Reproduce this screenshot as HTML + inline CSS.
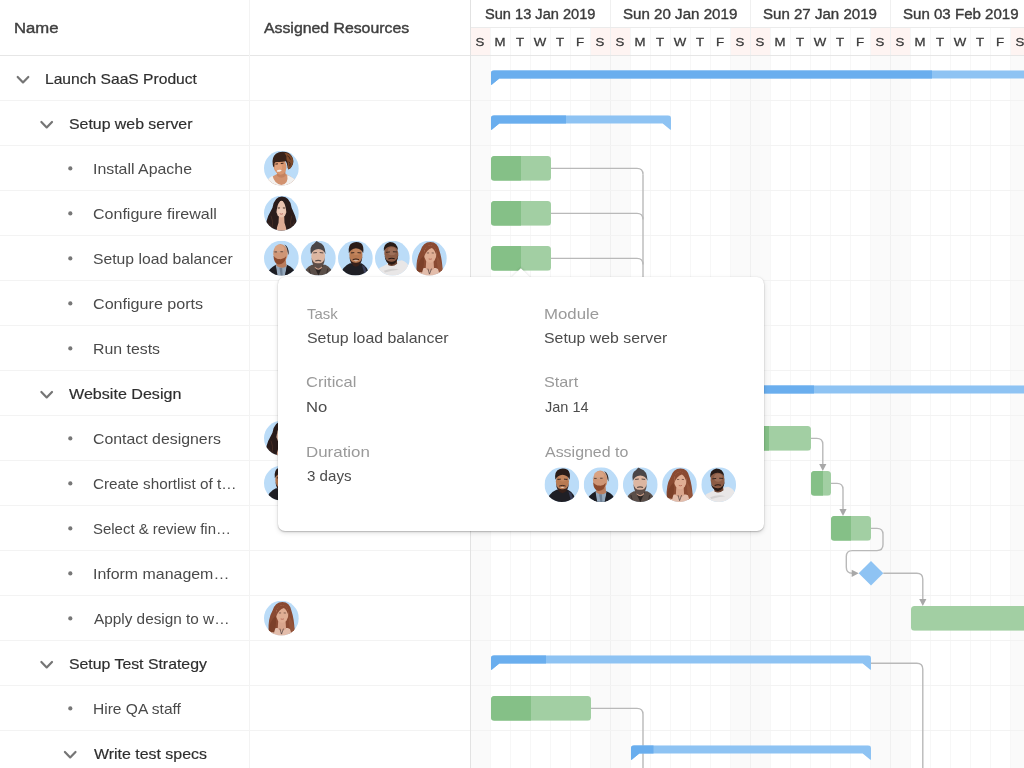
<!DOCTYPE html>
<html><head><meta charset="utf-8"><title>Gantt</title>
<style>
html,body{margin:0;padding:0;background:#fff;}
body{width:1024px;height:768px;overflow:hidden;position:relative;font-family:"Liberation Sans", sans-serif;}
#all{position:absolute;left:0;top:0;width:1024px;height:768px;overflow:hidden;filter:blur(0.3px);background:#fff;}
svg{position:absolute;left:0;top:0;}
.t{position:absolute;white-space:pre;line-height:20px;height:20px;transform-origin:0 50%;font-family:"Liberation Sans", sans-serif;}
.d{position:absolute;top:32.3px;width:20px;text-align:center;font-size:11.8px;transform:scaleX(1.12);line-height:20px;color:#3a3a3a;-webkit-text-stroke:0.3px #3a3a3a;font-family:"Liberation Sans", sans-serif;}
#tip{position:absolute;left:277.9px;top:276.8px;width:486.1px;height:254px;background:#fff;border-radius:7px;box-shadow:0 1px 1.5px rgba(0,0,0,.2),0 2px 5px rgba(0,0,0,.12),0 0 1.5px rgba(0,0,0,.10);}
#tiparrow{position:absolute;left:514.2px;top:271.2px;width:13.6px;height:13.6px;background:#fff;transform:rotate(45deg);box-shadow:-1px -1px 2px rgba(0,0,0,.08);}
#tipcover{position:absolute;left:500px;top:276.8px;width:42px;height:12px;background:#fff;}
</style></head><body><div id="all">
<svg width="1024" height="768" viewBox="0 0 1024 768">
<rect x="471" y="56" width="20" height="712" fill="#fafafa"/>
<rect x="591" y="56" width="20" height="712" fill="#fafafa"/>
<rect x="471" y="28" width="19" height="27" fill="#fef4f2"/>
<rect x="591" y="28" width="19" height="27" fill="#fef4f2"/>
<rect x="611" y="56" width="20" height="712" fill="#fafafa"/>
<rect x="731" y="56" width="20" height="712" fill="#fafafa"/>
<rect x="611" y="28" width="19" height="27" fill="#fef4f2"/>
<rect x="731" y="28" width="19" height="27" fill="#fef4f2"/>
<rect x="751" y="56" width="20" height="712" fill="#fafafa"/>
<rect x="871" y="56" width="20" height="712" fill="#fafafa"/>
<rect x="751" y="28" width="19" height="27" fill="#fef4f2"/>
<rect x="871" y="28" width="19" height="27" fill="#fef4f2"/>
<rect x="891" y="56" width="20" height="712" fill="#fafafa"/>
<rect x="1011" y="56" width="20" height="712" fill="#fafafa"/>
<rect x="891" y="28" width="19" height="27" fill="#fef4f2"/>
<rect x="1011" y="28" width="19" height="27" fill="#fef4f2"/>
<rect x="1031" y="56" width="20" height="712" fill="#fafafa"/>
<rect x="1151" y="56" width="20" height="712" fill="#fafafa"/>
<rect x="1031" y="28" width="19" height="27" fill="#fef4f2"/>
<rect x="1151" y="28" width="19" height="27" fill="#fef4f2"/>
<line x1="490.5" y1="28" x2="490.5" y2="768" stroke="#f7f7f7" stroke-width="1"/>
<line x1="510.5" y1="28" x2="510.5" y2="768" stroke="#f7f7f7" stroke-width="1"/>
<line x1="530.5" y1="28" x2="530.5" y2="768" stroke="#f7f7f7" stroke-width="1"/>
<line x1="550.5" y1="28" x2="550.5" y2="768" stroke="#f7f7f7" stroke-width="1"/>
<line x1="570.5" y1="28" x2="570.5" y2="768" stroke="#f7f7f7" stroke-width="1"/>
<line x1="590.5" y1="28" x2="590.5" y2="768" stroke="#f7f7f7" stroke-width="1"/>
<line x1="610.5" y1="0" x2="610.5" y2="768" stroke="#f0f0f0" stroke-width="1"/>
<line x1="630.5" y1="28" x2="630.5" y2="768" stroke="#f7f7f7" stroke-width="1"/>
<line x1="650.5" y1="28" x2="650.5" y2="768" stroke="#f7f7f7" stroke-width="1"/>
<line x1="670.5" y1="28" x2="670.5" y2="768" stroke="#f7f7f7" stroke-width="1"/>
<line x1="690.5" y1="28" x2="690.5" y2="768" stroke="#f7f7f7" stroke-width="1"/>
<line x1="710.5" y1="28" x2="710.5" y2="768" stroke="#f7f7f7" stroke-width="1"/>
<line x1="730.5" y1="28" x2="730.5" y2="768" stroke="#f7f7f7" stroke-width="1"/>
<line x1="750.5" y1="0" x2="750.5" y2="768" stroke="#f0f0f0" stroke-width="1"/>
<line x1="770.5" y1="28" x2="770.5" y2="768" stroke="#f7f7f7" stroke-width="1"/>
<line x1="790.5" y1="28" x2="790.5" y2="768" stroke="#f7f7f7" stroke-width="1"/>
<line x1="810.5" y1="28" x2="810.5" y2="768" stroke="#f7f7f7" stroke-width="1"/>
<line x1="830.5" y1="28" x2="830.5" y2="768" stroke="#f7f7f7" stroke-width="1"/>
<line x1="850.5" y1="28" x2="850.5" y2="768" stroke="#f7f7f7" stroke-width="1"/>
<line x1="870.5" y1="28" x2="870.5" y2="768" stroke="#f7f7f7" stroke-width="1"/>
<line x1="890.5" y1="0" x2="890.5" y2="768" stroke="#f0f0f0" stroke-width="1"/>
<line x1="910.5" y1="28" x2="910.5" y2="768" stroke="#f7f7f7" stroke-width="1"/>
<line x1="930.5" y1="28" x2="930.5" y2="768" stroke="#f7f7f7" stroke-width="1"/>
<line x1="950.5" y1="28" x2="950.5" y2="768" stroke="#f7f7f7" stroke-width="1"/>
<line x1="970.5" y1="28" x2="970.5" y2="768" stroke="#f7f7f7" stroke-width="1"/>
<line x1="990.5" y1="28" x2="990.5" y2="768" stroke="#f7f7f7" stroke-width="1"/>
<line x1="1010.5" y1="28" x2="1010.5" y2="768" stroke="#f7f7f7" stroke-width="1"/>
<line x1="1030.5" y1="0" x2="1030.5" y2="768" stroke="#f0f0f0" stroke-width="1"/>
<line x1="471" y1="27.5" x2="1024" y2="27.5" stroke="#ebebeb"/>
<line x1="0" y1="55.5" x2="1024" y2="55.5" stroke="#e6e6e6"/>
<line x1="0" y1="100.5" x2="1024" y2="100.5" stroke="#f3f3f3"/>
<line x1="0" y1="145.5" x2="1024" y2="145.5" stroke="#f3f3f3"/>
<line x1="0" y1="190.5" x2="1024" y2="190.5" stroke="#f3f3f3"/>
<line x1="0" y1="235.5" x2="1024" y2="235.5" stroke="#f3f3f3"/>
<line x1="0" y1="280.5" x2="1024" y2="280.5" stroke="#f3f3f3"/>
<line x1="0" y1="325.5" x2="1024" y2="325.5" stroke="#f3f3f3"/>
<line x1="0" y1="370.5" x2="1024" y2="370.5" stroke="#f3f3f3"/>
<line x1="0" y1="415.5" x2="1024" y2="415.5" stroke="#f3f3f3"/>
<line x1="0" y1="460.5" x2="1024" y2="460.5" stroke="#f3f3f3"/>
<line x1="0" y1="505.5" x2="1024" y2="505.5" stroke="#f3f3f3"/>
<line x1="0" y1="550.5" x2="1024" y2="550.5" stroke="#f3f3f3"/>
<line x1="0" y1="595.5" x2="1024" y2="595.5" stroke="#f3f3f3"/>
<line x1="0" y1="640.5" x2="1024" y2="640.5" stroke="#f3f3f3"/>
<line x1="0" y1="685.5" x2="1024" y2="685.5" stroke="#f3f3f3"/>
<line x1="0" y1="730.5" x2="1024" y2="730.5" stroke="#f3f3f3"/>
<line x1="0" y1="775.5" x2="1024" y2="775.5" stroke="#f3f3f3"/>
<line x1="249.5" y1="0" x2="249.5" y2="768" stroke="#f3f3f3"/>
<line x1="470.5" y1="0" x2="470.5" y2="768" stroke="#e2e2e2"/>
<path d="M17.7 77.0 L23.0 82.4 L28.3 77.0" fill="none" stroke="#757575" stroke-width="2.2" stroke-linecap="round" stroke-linejoin="round"/>
<path d="M41.4 122.0 L46.7 127.4 L52.0 122.0" fill="none" stroke="#757575" stroke-width="2.2" stroke-linecap="round" stroke-linejoin="round"/>
<circle cx="70.3" cy="168.4" r="2.1" fill="#777"/>
<circle cx="70.3" cy="213.4" r="2.1" fill="#777"/>
<circle cx="70.3" cy="258.4" r="2.1" fill="#777"/>
<circle cx="70.3" cy="303.4" r="2.1" fill="#777"/>
<circle cx="70.3" cy="348.4" r="2.1" fill="#777"/>
<path d="M41.4 392.0 L46.7 397.4 L52.0 392.0" fill="none" stroke="#757575" stroke-width="2.2" stroke-linecap="round" stroke-linejoin="round"/>
<circle cx="70.3" cy="438.4" r="2.1" fill="#777"/>
<circle cx="70.3" cy="483.4" r="2.1" fill="#777"/>
<circle cx="70.3" cy="528.4" r="2.1" fill="#777"/>
<circle cx="70.3" cy="573.4" r="2.1" fill="#777"/>
<circle cx="70.3" cy="618.4" r="2.1" fill="#777"/>
<path d="M41.4 662.0 L46.7 667.4 L52.0 662.0" fill="none" stroke="#757575" stroke-width="2.2" stroke-linecap="round" stroke-linejoin="round"/>
<circle cx="70.3" cy="708.4" r="2.1" fill="#777"/>
<path d="M64.9 752.0 L70.2 757.4 L75.5 752.0" fill="none" stroke="#757575" stroke-width="2.2" stroke-linecap="round" stroke-linejoin="round"/>
<path d="M551 168.4 L637 168.4 Q643 168.4 643 174.4" fill="none" stroke="#b9b9b9" stroke-width="1.4"/>
<path d="M551 213.4 L637 213.4 Q643 213.4 643 219.4" fill="none" stroke="#b9b9b9" stroke-width="1.4"/>
<path d="M551 258.4 L637 258.4 Q643 258.4 643 264.4" fill="none" stroke="#b9b9b9" stroke-width="1.4"/>
<path d="M643 174.4 L643 300" fill="none" stroke="#b9b9b9" stroke-width="1.4"/>
<path d="M811 438.4 L816.8 438.4 Q822.8 438.4 822.8 444.4 L822.8 465.0" fill="none" stroke="#b9b9b9" stroke-width="1.4"/>
<path d="M819.1999999999999 464.0 L826.4 464.0 L822.8 471.0 Z" fill="#a8a8a8"/>
<path d="M831 483.4 L837 483.4 Q843 483.4 843 489.4 L843 510.0" fill="none" stroke="#b9b9b9" stroke-width="1.4"/>
<path d="M839.4 509.0 L846.6 509.0 L843 516.0 Z" fill="#a8a8a8"/>
<path d="M871 528.4 L877 528.4 Q883 528.4 883 534.4 L883 544.6 Q883 550.6 877 550.6 L852.3 550.6 Q846.3 550.6 846.3 556.6 L846.3 567.3 Q846.3 573.3 852.3 573.3 L852.7 573.3" fill="none" stroke="#b9b9b9" stroke-width="1.4"/>
<path d="M851.7 569.6999999999999 L851.7 576.9 L858.7 573.3 Z" fill="#a8a8a8"/>
<path d="M883.3 573.3 L916.8 573.3 Q922.8 573.3 922.8 579.3 L922.8 600.0" fill="none" stroke="#b9b9b9" stroke-width="1.4"/>
<path d="M919.1999999999999 599.0 L926.4 599.0 L922.8 606.0 Z" fill="#a8a8a8"/>
<path d="M871 663.1999999999999 L916.8 663.1999999999999 Q922.8 663.1999999999999 922.8 669.1999999999999 L922.8 770" fill="none" stroke="#b9b9b9" stroke-width="1.4"/>
<path d="M591 708.4 L637 708.4 Q643 708.4 643 714.4 L643 770" fill="none" stroke="#b9b9b9" stroke-width="1.4"/>
<clipPath id="c0"><path d="M491 73.5 Q491 70.3 494.2 70.3 L1030 70.3 L1030 78.6 L499.3 78.6 L492.3 84.3 Q491 85.5 491 83.9 Z"/></clipPath>
<g clip-path="url(#c0)"><rect x="491" y="70.3" width="539" height="20" fill="#8ec3f3"/><rect x="491" y="70.3" width="441" height="20" fill="#6aaeee"/></g>
<clipPath id="c1"><path d="M491 118.5 Q491 115.3 494.2 115.3 L667.8 115.3 Q671 115.3 671 118.5 L671 128.9 Q671 130.5 669.7 129.3 L662.7 123.6 L499.3 123.6 L492.3 129.3 Q491 130.5 491 128.9 Z"/></clipPath>
<g clip-path="url(#c1)"><rect x="491" y="115.3" width="180" height="20" fill="#8ec3f3"/><rect x="491" y="115.3" width="75" height="20" fill="#6aaeee"/></g>
<clipPath id="c2"><rect x="491" y="156.0" width="60" height="24.8" rx="3.5"/></clipPath>
<g clip-path="url(#c2)"><rect x="491" y="156.0" width="60" height="24.8" fill="#a2cfa3"/><rect x="491" y="156.0" width="30" height="24.8" fill="#85c087"/></g>
<clipPath id="c3"><rect x="491" y="201.0" width="60" height="24.8" rx="3.5"/></clipPath>
<g clip-path="url(#c3)"><rect x="491" y="201.0" width="60" height="24.8" fill="#a2cfa3"/><rect x="491" y="201.0" width="30" height="24.8" fill="#85c087"/></g>
<clipPath id="c4"><rect x="491" y="246.0" width="60" height="24.8" rx="3.5"/></clipPath>
<g clip-path="url(#c4)"><rect x="491" y="246.0" width="60" height="24.8" fill="#a2cfa3"/><rect x="491" y="246.0" width="30" height="24.8" fill="#85c087"/></g>
<clipPath id="c7"><path d="M611 388.5 Q611 385.3 614.2 385.3 L1030 385.3 L1030 393.6 L619.3 393.6 L612.3 399.3 Q611 400.5 611 398.9 Z"/></clipPath>
<g clip-path="url(#c7)"><rect x="611" y="385.3" width="419" height="20" fill="#8ec3f3"/><rect x="611" y="385.3" width="203" height="20" fill="#6aaeee"/></g>
<clipPath id="c8"><rect x="751" y="426.0" width="60" height="24.8" rx="3.5"/></clipPath>
<g clip-path="url(#c8)"><rect x="751" y="426.0" width="60" height="24.8" fill="#a2cfa3"/><rect x="751" y="426.0" width="18" height="24.8" fill="#85c087"/></g>
<clipPath id="c9"><rect x="811" y="471.0" width="20" height="24.8" rx="3.5"/></clipPath>
<g clip-path="url(#c9)"><rect x="811" y="471.0" width="20" height="24.8" fill="#a2cfa3"/><rect x="811" y="471.0" width="12" height="24.8" fill="#85c087"/></g>
<clipPath id="c10"><rect x="831" y="516.0" width="40" height="24.8" rx="3.5"/></clipPath>
<g clip-path="url(#c10)"><rect x="831" y="516.0" width="40" height="24.8" fill="#a2cfa3"/><rect x="831" y="516.0" width="20" height="24.8" fill="#85c087"/></g>
<clipPath id="c12"><rect x="911" y="606.0" width="119" height="24.8" rx="3.5"/></clipPath>
<g clip-path="url(#c12)"><rect x="911" y="606.0" width="119" height="24.8" fill="#a2cfa3"/><rect x="911" y="606.0" width="0" height="24.8" fill="#85c087"/></g>
<clipPath id="c13"><path d="M491 658.5 Q491 655.3 494.2 655.3 L867.8 655.3 Q871 655.3 871 658.5 L871 668.9 Q871 670.5 869.7 669.3 L862.7 663.5999999999999 L499.3 663.5999999999999 L492.3 669.3 Q491 670.5 491 668.9 Z"/></clipPath>
<g clip-path="url(#c13)"><rect x="491" y="655.3" width="380" height="20" fill="#8ec3f3"/><rect x="491" y="655.3" width="55" height="20" fill="#6aaeee"/></g>
<clipPath id="c14"><rect x="491" y="696.0" width="100" height="24.8" rx="3.5"/></clipPath>
<g clip-path="url(#c14)"><rect x="491" y="696.0" width="100" height="24.8" fill="#a2cfa3"/><rect x="491" y="696.0" width="40" height="24.8" fill="#85c087"/></g>
<clipPath id="c15"><path d="M631 748.5 Q631 745.3 634.2 745.3 L867.8 745.3 Q871 745.3 871 748.5 L871 758.9 Q871 760.5 869.7 759.3 L862.7 753.5999999999999 L639.3 753.5999999999999 L632.3 759.3 Q631 760.5 631 758.9 Z"/></clipPath>
<g clip-path="url(#c15)"><rect x="631" y="745.3" width="240" height="20" fill="#8ec3f3"/><rect x="631" y="745.3" width="22.5" height="20" fill="#6aaeee"/></g>
<path d="M858.7 573.3 L871 561.0 L883.3 573.3 L871 585.5999999999999 Z" fill="#8ec3f3"/>
<g transform="translate(264.0 150.8) scale(0.9943)"><clipPath id="a1"><circle cx="17.5" cy="17.5" r="17.5"/></clipPath><g clip-path="url(#a1)"><rect width="35" height="35" fill="#bbdcf8"/><path d="M1 35 Q3 28.5 9 25.5 L13.5 23 L21.5 23 L26 25.5 Q32 28.5 34 35Z" fill="#d2926f"/><path d="M1 35 Q2.5 28.5 8.6 25.2 Q10.5 33.5 17.5 34.4 Q25 33.5 23.4 24.4 L27 26 Q32.5 28.5 34 35Z" fill="#f3f1ef"/><path d="M13.4 19 L21.3 19 L21.8 25 Q17.5 29 13 25Z" fill="#c4825f"/><ellipse cx="16.1" cy="15.6" rx="6.5" ry="8.4" transform="rotate(-9 16.1 15.6)" fill="#d9966f"/><ellipse cx="14.6" cy="16.6" rx="3.6" ry="4" fill="#e5a884" opacity=".7"/><ellipse cx="15.3" cy="20.1" rx="2.5" ry="0.95" transform="rotate(-10 15.3 20.1)" fill="#f8f0ea"/><path d="M11.6 13.4 L14 13.1 M16.9 12.8 L19.6 12.5" stroke="#3a231a" stroke-width="1"/><path d="M8.8 14 Q7.6 6.5 12 3 Q16 0 22 1.3 Q27 2.5 28.8 7 Q30.5 11.5 28.3 15 Q27 18.5 24.6 18.8 Q23.6 18 23.6 15.5 Q23.4 12.5 21.8 10.6 Q17 11.6 13.5 11.2 Q11 11 10.6 12.5 Q10.4 15 10.2 16.6 Q9 16 8.8 14Z" fill="#37221a"/><path d="M20.5 2 Q26.5 2.2 28.8 7.5 Q30.2 12 28 15.3 Q26.6 18.6 24.6 18.6 Q23.8 17.5 24 14.5 Q24.3 11 22.6 8.5 Q23 4.5 20.5 2Z" fill="#7f4a2b"/><path d="M23.5 5 Q26 6 26.5 9 M25 11 Q27 12 26 15.5" stroke="#3d261b" stroke-width="0.9" fill="none"/></g></g>
<g transform="translate(264.0 195.8) scale(0.9943)"><clipPath id="a2"><circle cx="17.5" cy="17.5" r="17.5"/></clipPath><g clip-path="url(#a2)"><rect width="35" height="35" fill="#bbdcf8"/><path d="M1 30 Q3.5 20 8.5 12 Q10.5 0.8 18 0.8 Q26 0.8 27.8 12 Q32 20 34 30 Q27 36 17.5 35.8 Q8 36 1 30Z" fill="#2a1c1b"/><path d="M15 20 L20.3 20 L20.6 27 Q22.5 32 22.8 35.8 L12.6 35.8 Q12.6 32 14.6 27Z" fill="#dcab94"/><ellipse cx="17.5" cy="13.5" rx="5.4" ry="8.4" fill="#e8c2ae"/><ellipse cx="17.5" cy="16" rx="3.4" ry="3.6" fill="#f0cfbd" opacity=".7"/><path d="M11.9 17 Q10 5 17.7 3.7 Q13.8 7.2 13 13.2 Q12.6 16 11.9 17Z" fill="#2a1c1b"/><path d="M23.1 17 Q25 5 17.7 3.7 Q21.2 7.2 22 13.2 Q22.4 16 23.1 17Z" fill="#2a1c1b"/><path d="M13.9 12.3 L16 12.2 M19 12.2 L21.1 12.3" stroke="#3a2822" stroke-width="0.9"/><path d="M15.8 18 Q17.5 19 19.2 18" stroke="#b5645a" stroke-width="0.9" fill="none"/><path d="M7 20 Q10 26 8 33 M28 20 Q25.5 26 27.5 33 M4.5 27 Q7 29 6 32 M30.5 26 Q28.5 29 30 32" stroke="#5c3b2c" stroke-width="0.9" fill="none" opacity=".55"/></g></g>
<g transform="translate(264.0 240.8) scale(0.9943)"><clipPath id="a3"><circle cx="17.5" cy="17.5" r="17.5"/></clipPath><g clip-path="url(#a3)"><rect width="35" height="35" fill="#bbdcf8"/><path d="M2.5 35 Q5 27.5 12 24.2 L23 24.2 Q30.5 27 32.5 35Z" fill="#1d1d23"/><path d="M11.8 24.3 L12.8 35 L21.5 35 L23.2 24.3Z" fill="#94a8bc"/><path d="M11.8 24.3 L10 35 L13.6 35Z M23.2 24.3 L24.5 35 L21 35Z" fill="#1d1d23"/><path d="M15.5 27 L16.8 35 L18.8 35 L18.3 27Z" fill="#6f8196"/><path d="M13 19 L22 19 L22.5 25.5 Q17.5 29 12.5 25Z" fill="#b97d5e"/><ellipse cx="16.6" cy="12.8" rx="7.3" ry="9.7" fill="#cf9676"/><ellipse cx="15.5" cy="8" rx="5" ry="4" fill="#dba687" opacity=".8"/><path d="M20.5 3.6 Q25.5 6 25 14.5 Q23.6 12 23.2 8.5 Q22.3 5.6 20.5 3.6Z" fill="#3a2922"/><path d="M9.6 15 Q9.6 23 15 23.8 Q21.5 23.3 22.3 15.5 Q19.8 19 15.5 18.4 Q12 18.4 9.6 15Z" fill="#8b4a2e"/><path d="M9 11 L20.3 10.8" stroke="#b09a90" stroke-width="0.7" opacity=".8"/><path d="M10.5 11.2 L13 11.2 M16.5 11 L19 11" stroke="#5a3a2c" stroke-width="0.9"/></g></g>
<g transform="translate(301.0 240.8) scale(0.9943)"><clipPath id="a4"><circle cx="17.5" cy="17.5" r="17.5"/></clipPath><g clip-path="url(#a4)"><rect width="35" height="35" fill="#bbdcf8"/><path d="M2 35 Q4 27 11 24 L24.5 24 Q31 27 33 35Z" fill="#5a4e48"/><path d="M12.5 24 L17.5 35 L22.5 24Z" fill="#2b2523"/><path d="M8 28 L10 35 M27 28 L25.5 35" stroke="#3e3430" stroke-width="1.2"/><path d="M14 21 L21 21 L21.3 27 Q17.5 31 13.7 27Z" fill="#c99c86"/><ellipse cx="17.3" cy="15.3" rx="6.9" ry="9.2" fill="#dcb6a1"/><path d="M10.6 16.5 Q10.8 26.5 17.3 28 Q23.8 26.5 24 16.5 Q22.8 23.3 17.3 22.6 Q11.8 23.3 10.6 16.5Z" fill="#5e4e48"/><path d="M14.3 20.3 Q17.3 19 20.3 20.3" stroke="#5e4e48" stroke-width="1.1" fill="none"/><path d="M10 13.5 Q8.3 5.5 13 3 L15.6 0.2 L18.2 1.8 Q24.2 3 24.8 13.5 Q23 8.8 17.5 8.2 Q12 8.8 10 13.5Z" fill="#4a4648"/><path d="M12.3 12.2 L16 11.8 M18.8 11.8 L22.4 12.2" stroke="#4a3e3a" stroke-width="0.9"/></g></g>
<g transform="translate(338.0 240.8) scale(0.9943)"><clipPath id="a5"><circle cx="17.5" cy="17.5" r="17.5"/></clipPath><g clip-path="url(#a5)"><rect width="35" height="35" fill="#bbdcf8"/><path d="M2 35 Q4 26 12 22.5 L23.5 22.5 Q30.5 26 31.5 35Z" fill="#1f1f25"/><path d="M24 24 L27 35 L30 35 L27 26Z" fill="#3a3f58"/><ellipse cx="18" cy="14.3" rx="6.6" ry="9" fill="#b87a52"/><ellipse cx="18.5" cy="11" rx="4" ry="3.2" fill="#c88a62" opacity=".7"/><path d="M11.6 15.5 Q11.8 24.8 18 26 Q24.2 24.8 24.5 15.5 Q23.3 22.6 18 22 Q12.7 22.6 11.6 15.5Z" fill="#38211a"/><path d="M14.8 18.9 Q18 17.6 21.2 18.9" stroke="#38211a" stroke-width="1" fill="none"/><path d="M15.3 19.5 Q18 21.7 20.7 19.5 Q18 20.3 15.3 19.5Z" fill="#f3ebe6"/><path d="M10.9 12.5 Q9.6 3.8 15 1.9 Q19 0.3 23.2 2.4 Q26.4 5 25.3 12.5 Q23.6 8 18 7.4 Q13 8 10.9 12.5Z" fill="#2a1c18"/><path d="M13 12.2 L16.4 11.9 M19.6 11.9 L23 12.2" stroke="#2a1c18" stroke-width="0.9"/></g></g>
<g transform="translate(375.0 240.8) scale(0.9943)"><clipPath id="a6"><circle cx="17.5" cy="17.5" r="17.5"/></clipPath><g clip-path="url(#a6)"><rect width="35" height="35" fill="#bbdcf8"/><path d="M0 35 Q1.5 27.5 9 25 L14 22.3 L22 20.5 L27 19.5 Q33 21.5 35 28 L35 35Z" fill="#e9e7e7"/><path d="M9 30 Q17 27 24 29 Q17 29.5 10 32Z" fill="#d4d2d2"/><path d="M12.8 19.5 L21.8 18.5 L22.3 23 Q17.8 27 13.2 24.3Z" fill="#6b4432"/><ellipse cx="16.4" cy="12.8" rx="7" ry="9.6" transform="rotate(-6 16.4 12.8)" fill="#8c5c45"/><ellipse cx="17" cy="10.5" rx="4.2" ry="4" fill="#a87a63" opacity=".65"/><path d="M9.6 14.8 Q10.3 23 16.6 24.2 Q22.8 23 23.5 14 Q21.9 21.4 16.6 21 Q11.3 21.4 9.6 14.8Z" fill="#2a1a14"/><path d="M13.4 18.3 Q16.6 17 19.8 18.1" stroke="#2a1a14" stroke-width="1.1" fill="none"/><path d="M8.9 10.5 Q8.2 2.8 15 1.3 Q22.2 1.3 23.2 9.5 Q21 5.3 16 5.4 Q11 5.8 8.9 10.5Z" fill="#281c18"/><path d="M11 11.6 L15 11.2 M18 11 L22 11.2" stroke="#3a2820" stroke-width="1"/></g></g>
<g transform="translate(412.0 240.8) scale(0.9943)"><clipPath id="a7"><circle cx="17.5" cy="17.5" r="17.5"/></clipPath><g clip-path="url(#a7)"><rect width="35" height="35" fill="#bbdcf8"/><path d="M4.6 31 Q3.8 18 8.5 10 Q11 1.4 18.5 1.2 Q26 1.4 27.6 10 Q30.3 18 30.8 30 L28 33 L7 33Z" fill="#8a4a32"/><path d="M4 35.5 Q6 29 12 27.3 L24 27.3 Q30 29 31.5 35.5Z" fill="#e3bdab"/><path d="M14.3 20 L21.7 20 L22.2 28 Q18 32 13.8 28Z" fill="#d9a58c"/><ellipse cx="18.3" cy="13.4" rx="6.3" ry="8.8" fill="#e0ae94"/><path d="M12.1 16 Q11.2 4.8 18.5 4.1 Q25.4 4.8 24.7 16 Q23.2 9 20 7.3 Q15 8.4 12.1 16Z" fill="#8a4a32"/><path d="M4.6 31 Q5 21 11.8 15 Q13 23 10.2 32Z" fill="#7c4029"/><path d="M30.8 30 Q30 21 24.9 15 Q24.2 23 27.2 32Z" fill="#94543a"/><path d="M16 28 L17.6 33.5 L19.6 28" stroke="#4c3b3a" stroke-width="0.7" fill="none"/><path d="M15 12.3 L17.2 12.2 M19.8 12.2 L22 12.3" stroke="#6a4a3e" stroke-width="0.8"/><path d="M16.8 18.2 Q18.4 19 20 18.2" stroke="#b86a58" stroke-width="0.9" fill="none"/></g></g>
<g transform="translate(264.0 420.8) scale(0.9943)"><clipPath id="a8"><circle cx="17.5" cy="17.5" r="17.5"/></clipPath><g clip-path="url(#a8)"><rect width="35" height="35" fill="#bbdcf8"/><path d="M1 30 Q3.5 20 8.5 12 Q10.5 0.8 18 0.8 Q26 0.8 27.8 12 Q32 20 34 30 Q27 36 17.5 35.8 Q8 36 1 30Z" fill="#2a1c1b"/><path d="M15 20 L20.3 20 L20.6 27 Q22.5 32 22.8 35.8 L12.6 35.8 Q12.6 32 14.6 27Z" fill="#dcab94"/><ellipse cx="17.5" cy="13.5" rx="5.4" ry="8.4" fill="#e8c2ae"/><ellipse cx="17.5" cy="16" rx="3.4" ry="3.6" fill="#f0cfbd" opacity=".7"/><path d="M11.9 17 Q10 5 17.7 3.7 Q13.8 7.2 13 13.2 Q12.6 16 11.9 17Z" fill="#2a1c1b"/><path d="M23.1 17 Q25 5 17.7 3.7 Q21.2 7.2 22 13.2 Q22.4 16 23.1 17Z" fill="#2a1c1b"/><path d="M13.9 12.3 L16 12.2 M19 12.2 L21.1 12.3" stroke="#3a2822" stroke-width="0.9"/><path d="M15.8 18 Q17.5 19 19.2 18" stroke="#b5645a" stroke-width="0.9" fill="none"/><path d="M7 20 Q10 26 8 33 M28 20 Q25.5 26 27.5 33 M4.5 27 Q7 29 6 32 M30.5 26 Q28.5 29 30 32" stroke="#5c3b2c" stroke-width="0.9" fill="none" opacity=".55"/></g></g>
<g transform="translate(264.0 465.8) scale(0.9943)"><clipPath id="a9"><circle cx="17.5" cy="17.5" r="17.5"/></clipPath><g clip-path="url(#a9)"><rect width="35" height="35" fill="#bbdcf8"/><path d="M2 35 Q4 26 12 22.5 L23.5 22.5 Q30.5 26 31.5 35Z" fill="#1f1f25"/><path d="M24 24 L27 35 L30 35 L27 26Z" fill="#3a3f58"/><ellipse cx="18" cy="14.3" rx="6.6" ry="9" fill="#b87a52"/><ellipse cx="18.5" cy="11" rx="4" ry="3.2" fill="#c88a62" opacity=".7"/><path d="M11.6 15.5 Q11.8 24.8 18 26 Q24.2 24.8 24.5 15.5 Q23.3 22.6 18 22 Q12.7 22.6 11.6 15.5Z" fill="#38211a"/><path d="M14.8 18.9 Q18 17.6 21.2 18.9" stroke="#38211a" stroke-width="1" fill="none"/><path d="M15.3 19.5 Q18 21.7 20.7 19.5 Q18 20.3 15.3 19.5Z" fill="#f3ebe6"/><path d="M10.9 12.5 Q9.6 3.8 15 1.9 Q19 0.3 23.2 2.4 Q26.4 5 25.3 12.5 Q23.6 8 18 7.4 Q13 8 10.9 12.5Z" fill="#2a1c18"/><path d="M13 12.2 L16.4 11.9 M19.6 11.9 L23 12.2" stroke="#2a1c18" stroke-width="0.9"/></g></g>
<g transform="translate(264.0 600.8) scale(0.9943)"><clipPath id="a10"><circle cx="17.5" cy="17.5" r="17.5"/></clipPath><g clip-path="url(#a10)"><rect width="35" height="35" fill="#bbdcf8"/><path d="M4.6 31 Q3.8 18 8.5 10 Q11 1.4 18.5 1.2 Q26 1.4 27.6 10 Q30.3 18 30.8 30 L28 33 L7 33Z" fill="#8a4a32"/><path d="M4 35.5 Q6 29 12 27.3 L24 27.3 Q30 29 31.5 35.5Z" fill="#e3bdab"/><path d="M14.3 20 L21.7 20 L22.2 28 Q18 32 13.8 28Z" fill="#d9a58c"/><ellipse cx="18.3" cy="13.4" rx="6.3" ry="8.8" fill="#e0ae94"/><path d="M12.1 16 Q11.2 4.8 18.5 4.1 Q25.4 4.8 24.7 16 Q23.2 9 20 7.3 Q15 8.4 12.1 16Z" fill="#8a4a32"/><path d="M4.6 31 Q5 21 11.8 15 Q13 23 10.2 32Z" fill="#7c4029"/><path d="M30.8 30 Q30 21 24.9 15 Q24.2 23 27.2 32Z" fill="#94543a"/><path d="M16 28 L17.6 33.5 L19.6 28" stroke="#4c3b3a" stroke-width="0.7" fill="none"/><path d="M15 12.3 L17.2 12.2 M19.8 12.2 L22 12.3" stroke="#6a4a3e" stroke-width="0.8"/><path d="M16.8 18.2 Q18.4 19 20 18.2" stroke="#b86a58" stroke-width="0.9" fill="none"/></g></g>
</svg>
<span class="d" style="left:470.3px">S</span>
<span class="d" style="left:490.3px">M</span>
<span class="d" style="left:510.3px">T</span>
<span class="d" style="left:530.3px">W</span>
<span class="d" style="left:550.3px">T</span>
<span class="d" style="left:570.3px">F</span>
<span class="d" style="left:590.3px">S</span>
<span class="d" style="left:610.3px">S</span>
<span class="d" style="left:630.3px">M</span>
<span class="d" style="left:650.3px">T</span>
<span class="d" style="left:670.3px">W</span>
<span class="d" style="left:690.3px">T</span>
<span class="d" style="left:710.3px">F</span>
<span class="d" style="left:730.3px">S</span>
<span class="d" style="left:750.3px">S</span>
<span class="d" style="left:770.3px">M</span>
<span class="d" style="left:790.3px">T</span>
<span class="d" style="left:810.3px">W</span>
<span class="d" style="left:830.3px">T</span>
<span class="d" style="left:850.3px">F</span>
<span class="d" style="left:870.3px">S</span>
<span class="d" style="left:890.3px">S</span>
<span class="d" style="left:910.3px">M</span>
<span class="d" style="left:930.3px">T</span>
<span class="d" style="left:950.3px">W</span>
<span class="d" style="left:970.3px">T</span>
<span class="d" style="left:990.3px">F</span>
<span class="d" style="left:1010.3px">S</span>
<div id="tiparrow"></div>
<div id="tip"></div>
<div id="tipcover"></div>
<svg width="1024" height="768" viewBox="0 0 1024 768">
<g transform="translate(544.5 467.3) scale(0.9943)"><clipPath id="a11"><circle cx="17.5" cy="17.5" r="17.5"/></clipPath><g clip-path="url(#a11)"><rect width="35" height="35" fill="#bbdcf8"/><path d="M2 35 Q4 26 12 22.5 L23.5 22.5 Q30.5 26 31.5 35Z" fill="#1f1f25"/><path d="M24 24 L27 35 L30 35 L27 26Z" fill="#3a3f58"/><ellipse cx="18" cy="14.3" rx="6.6" ry="9" fill="#b87a52"/><ellipse cx="18.5" cy="11" rx="4" ry="3.2" fill="#c88a62" opacity=".7"/><path d="M11.6 15.5 Q11.8 24.8 18 26 Q24.2 24.8 24.5 15.5 Q23.3 22.6 18 22 Q12.7 22.6 11.6 15.5Z" fill="#38211a"/><path d="M14.8 18.9 Q18 17.6 21.2 18.9" stroke="#38211a" stroke-width="1" fill="none"/><path d="M15.3 19.5 Q18 21.7 20.7 19.5 Q18 20.3 15.3 19.5Z" fill="#f3ebe6"/><path d="M10.9 12.5 Q9.6 3.8 15 1.9 Q19 0.3 23.2 2.4 Q26.4 5 25.3 12.5 Q23.6 8 18 7.4 Q13 8 10.9 12.5Z" fill="#2a1c18"/><path d="M13 12.2 L16.4 11.9 M19.6 11.9 L23 12.2" stroke="#2a1c18" stroke-width="0.9"/></g></g>
<g transform="translate(583.7 467.3) scale(0.9943)"><clipPath id="a12"><circle cx="17.5" cy="17.5" r="17.5"/></clipPath><g clip-path="url(#a12)"><rect width="35" height="35" fill="#bbdcf8"/><path d="M2.5 35 Q5 27.5 12 24.2 L23 24.2 Q30.5 27 32.5 35Z" fill="#1d1d23"/><path d="M11.8 24.3 L12.8 35 L21.5 35 L23.2 24.3Z" fill="#94a8bc"/><path d="M11.8 24.3 L10 35 L13.6 35Z M23.2 24.3 L24.5 35 L21 35Z" fill="#1d1d23"/><path d="M15.5 27 L16.8 35 L18.8 35 L18.3 27Z" fill="#6f8196"/><path d="M13 19 L22 19 L22.5 25.5 Q17.5 29 12.5 25Z" fill="#b97d5e"/><ellipse cx="16.6" cy="12.8" rx="7.3" ry="9.7" fill="#cf9676"/><ellipse cx="15.5" cy="8" rx="5" ry="4" fill="#dba687" opacity=".8"/><path d="M20.5 3.6 Q25.5 6 25 14.5 Q23.6 12 23.2 8.5 Q22.3 5.6 20.5 3.6Z" fill="#3a2922"/><path d="M9.6 15 Q9.6 23 15 23.8 Q21.5 23.3 22.3 15.5 Q19.8 19 15.5 18.4 Q12 18.4 9.6 15Z" fill="#8b4a2e"/><path d="M9 11 L20.3 10.8" stroke="#b09a90" stroke-width="0.7" opacity=".8"/><path d="M10.5 11.2 L13 11.2 M16.5 11 L19 11" stroke="#5a3a2c" stroke-width="0.9"/></g></g>
<g transform="translate(622.9 467.3) scale(0.9943)"><clipPath id="a13"><circle cx="17.5" cy="17.5" r="17.5"/></clipPath><g clip-path="url(#a13)"><rect width="35" height="35" fill="#bbdcf8"/><path d="M2 35 Q4 27 11 24 L24.5 24 Q31 27 33 35Z" fill="#5a4e48"/><path d="M12.5 24 L17.5 35 L22.5 24Z" fill="#2b2523"/><path d="M8 28 L10 35 M27 28 L25.5 35" stroke="#3e3430" stroke-width="1.2"/><path d="M14 21 L21 21 L21.3 27 Q17.5 31 13.7 27Z" fill="#c99c86"/><ellipse cx="17.3" cy="15.3" rx="6.9" ry="9.2" fill="#dcb6a1"/><path d="M10.6 16.5 Q10.8 26.5 17.3 28 Q23.8 26.5 24 16.5 Q22.8 23.3 17.3 22.6 Q11.8 23.3 10.6 16.5Z" fill="#5e4e48"/><path d="M14.3 20.3 Q17.3 19 20.3 20.3" stroke="#5e4e48" stroke-width="1.1" fill="none"/><path d="M10 13.5 Q8.3 5.5 13 3 L15.6 0.2 L18.2 1.8 Q24.2 3 24.8 13.5 Q23 8.8 17.5 8.2 Q12 8.8 10 13.5Z" fill="#4a4648"/><path d="M12.3 12.2 L16 11.8 M18.8 11.8 L22.4 12.2" stroke="#4a3e3a" stroke-width="0.9"/></g></g>
<g transform="translate(662.1 467.3) scale(0.9943)"><clipPath id="a14"><circle cx="17.5" cy="17.5" r="17.5"/></clipPath><g clip-path="url(#a14)"><rect width="35" height="35" fill="#bbdcf8"/><path d="M4.6 31 Q3.8 18 8.5 10 Q11 1.4 18.5 1.2 Q26 1.4 27.6 10 Q30.3 18 30.8 30 L28 33 L7 33Z" fill="#8a4a32"/><path d="M4 35.5 Q6 29 12 27.3 L24 27.3 Q30 29 31.5 35.5Z" fill="#e3bdab"/><path d="M14.3 20 L21.7 20 L22.2 28 Q18 32 13.8 28Z" fill="#d9a58c"/><ellipse cx="18.3" cy="13.4" rx="6.3" ry="8.8" fill="#e0ae94"/><path d="M12.1 16 Q11.2 4.8 18.5 4.1 Q25.4 4.8 24.7 16 Q23.2 9 20 7.3 Q15 8.4 12.1 16Z" fill="#8a4a32"/><path d="M4.6 31 Q5 21 11.8 15 Q13 23 10.2 32Z" fill="#7c4029"/><path d="M30.8 30 Q30 21 24.9 15 Q24.2 23 27.2 32Z" fill="#94543a"/><path d="M16 28 L17.6 33.5 L19.6 28" stroke="#4c3b3a" stroke-width="0.7" fill="none"/><path d="M15 12.3 L17.2 12.2 M19.8 12.2 L22 12.3" stroke="#6a4a3e" stroke-width="0.8"/><path d="M16.8 18.2 Q18.4 19 20 18.2" stroke="#b86a58" stroke-width="0.9" fill="none"/></g></g>
<g transform="translate(701.3 467.3) scale(0.9943)"><clipPath id="a15"><circle cx="17.5" cy="17.5" r="17.5"/></clipPath><g clip-path="url(#a15)"><rect width="35" height="35" fill="#bbdcf8"/><path d="M0 35 Q1.5 27.5 9 25 L14 22.3 L22 20.5 L27 19.5 Q33 21.5 35 28 L35 35Z" fill="#e9e7e7"/><path d="M9 30 Q17 27 24 29 Q17 29.5 10 32Z" fill="#d4d2d2"/><path d="M12.8 19.5 L21.8 18.5 L22.3 23 Q17.8 27 13.2 24.3Z" fill="#6b4432"/><ellipse cx="16.4" cy="12.8" rx="7" ry="9.6" transform="rotate(-6 16.4 12.8)" fill="#8c5c45"/><ellipse cx="17" cy="10.5" rx="4.2" ry="4" fill="#a87a63" opacity=".65"/><path d="M9.6 14.8 Q10.3 23 16.6 24.2 Q22.8 23 23.5 14 Q21.9 21.4 16.6 21 Q11.3 21.4 9.6 14.8Z" fill="#2a1a14"/><path d="M13.4 18.3 Q16.6 17 19.8 18.1" stroke="#2a1a14" stroke-width="1.1" fill="none"/><path d="M8.9 10.5 Q8.2 2.8 15 1.3 Q22.2 1.3 23.2 9.5 Q21 5.3 16 5.4 Q11 5.8 8.9 10.5Z" fill="#281c18"/><path d="M11 11.6 L15 11.2 M18 11 L22 11.2" stroke="#3a2820" stroke-width="1"/></g></g>
</svg>
<span class="t" style="left:13.91px;top:17.95px;font-size:14px;color:#3f3f3f;-webkit-text-stroke:0.4px #3f3f3f;transform:scaleX(1.1910)">Name</span>
<span class="t" style="left:264.10px;top:17.95px;font-size:14px;color:#3f3f3f;-webkit-text-stroke:0.4px #3f3f3f;transform:scaleX(1.1300)">Assigned Resources</span>
<span class="t" style="left:485.09px;top:4.05px;font-size:14px;color:#3a3a3a;-webkit-text-stroke:0.35px #3a3a3a;transform:scaleX(1.0433)">Sun 13 Jan 2019</span>
<span class="t" style="left:623.09px;top:4.05px;font-size:14px;color:#3a3a3a;-webkit-text-stroke:0.35px #3a3a3a;transform:scaleX(1.0795)">Sun 20 Jan 2019</span>
<span class="t" style="left:763.39px;top:4.05px;font-size:14px;color:#3a3a3a;-webkit-text-stroke:0.35px #3a3a3a;transform:scaleX(1.0757)">Sun 27 Jan 2019</span>
<span class="t" style="left:902.59px;top:4.05px;font-size:14px;color:#3a3a3a;-webkit-text-stroke:0.35px #3a3a3a;transform:scaleX(1.0760)">Sun 03 Feb 2019</span>
<span class="t" style="left:45.45px;top:68.57px;font-size:14.8px;color:#2e2e2e;-webkit-text-stroke:0.18px #2e2e2e;transform:scaleX(1.0554)">Launch SaaS Product</span>
<span class="t" style="left:69.08px;top:113.57px;font-size:14.8px;color:#2e2e2e;-webkit-text-stroke:0.18px #2e2e2e;transform:scaleX(1.0721)">Setup web server</span>
<span class="t" style="left:93.14px;top:158.57px;font-size:14.8px;color:#4a4a4a;transform:scaleX(1.0744)">Install Apache</span>
<span class="t" style="left:93.36px;top:203.57px;font-size:14.8px;color:#4a4a4a;transform:scaleX(1.0837)">Configure firewall</span>
<span class="t" style="left:93.48px;top:248.57px;font-size:14.8px;color:#4a4a4a;transform:scaleX(1.0616)">Setup load balancer</span>
<span class="t" style="left:93.36px;top:293.57px;font-size:14.8px;color:#4a4a4a;transform:scaleX(1.0887)">Configure ports</span>
<span class="t" style="left:93.14px;top:338.57px;font-size:14.8px;color:#4a4a4a;transform:scaleX(1.0723)">Run tests</span>
<span class="t" style="left:69.30px;top:383.57px;font-size:14.8px;color:#2e2e2e;-webkit-text-stroke:0.18px #2e2e2e;transform:scaleX(1.0873)">Website Design</span>
<span class="t" style="left:93.37px;top:428.57px;font-size:14.8px;color:#4a4a4a;transform:scaleX(1.0725)">Contact designers</span>
<span class="t" style="left:93.38px;top:473.57px;font-size:14.8px;color:#4a4a4a;transform:scaleX(1.0325)">Create shortlist of t…</span>
<span class="t" style="left:93.49px;top:518.57px;font-size:14.8px;color:#4a4a4a;transform:scaleX(1.0102)">Select &amp; review fin…</span>
<span class="t" style="left:93.14px;top:563.57px;font-size:14.8px;color:#4a4a4a;transform:scaleX(1.0763)">Inform managem…</span>
<span class="t" style="left:93.70px;top:608.57px;font-size:14.8px;color:#4a4a4a;transform:scaleX(1.0361)">Apply design to w…</span>
<span class="t" style="left:69.08px;top:653.57px;font-size:14.8px;color:#2e2e2e;-webkit-text-stroke:0.18px #2e2e2e;transform:scaleX(1.0699)">Setup Test Strategy</span>
<span class="t" style="left:93.15px;top:698.57px;font-size:14.8px;color:#4a4a4a;transform:scaleX(1.0512)">Hire QA staff</span>
<span class="t" style="left:93.70px;top:743.57px;font-size:14.8px;color:#2e2e2e;-webkit-text-stroke:0.18px #2e2e2e;transform:scaleX(1.0761)">Write test specs</span>
<span class="t" style="left:306.70px;top:303.70px;font-size:15px;color:#9a9a9a;transform:scaleX(0.9954)">Task</span>
<span class="t" style="left:306.58px;top:327.80px;font-size:15px;color:#4c4c4c;transform:scaleX(1.0610)">Setup load balancer</span>
<span class="t" style="left:306.45px;top:372.30px;font-size:15px;color:#9a9a9a;transform:scaleX(1.0987)">Critical</span>
<span class="t" style="left:306.21px;top:396.70px;font-size:15px;color:#4c4c4c;transform:scaleX(1.1095)">No</span>
<span class="t" style="left:306.21px;top:442.00px;font-size:15px;color:#9a9a9a;transform:scaleX(1.1265)">Duration</span>
<span class="t" style="left:306.59px;top:465.90px;font-size:15px;color:#4c4c4c;transform:scaleX(1.0079)">3 days</span>
<span class="t" style="left:544.01px;top:303.70px;font-size:15px;color:#9a9a9a;transform:scaleX(1.1199)">Module</span>
<span class="t" style="left:544.38px;top:327.80px;font-size:15px;color:#4c4c4c;transform:scaleX(1.0561)">Setup web server</span>
<span class="t" style="left:544.37px;top:372.30px;font-size:15px;color:#9a9a9a;transform:scaleX(1.0813)">Start</span>
<span class="t" style="left:544.50px;top:396.70px;font-size:15px;color:#4c4c4c;transform:scaleX(0.9656)">Jan 14</span>
<span class="t" style="left:544.60px;top:442.00px;font-size:15px;color:#9a9a9a;transform:scaleX(1.0633)">Assigned to</span>
</div></body></html>
